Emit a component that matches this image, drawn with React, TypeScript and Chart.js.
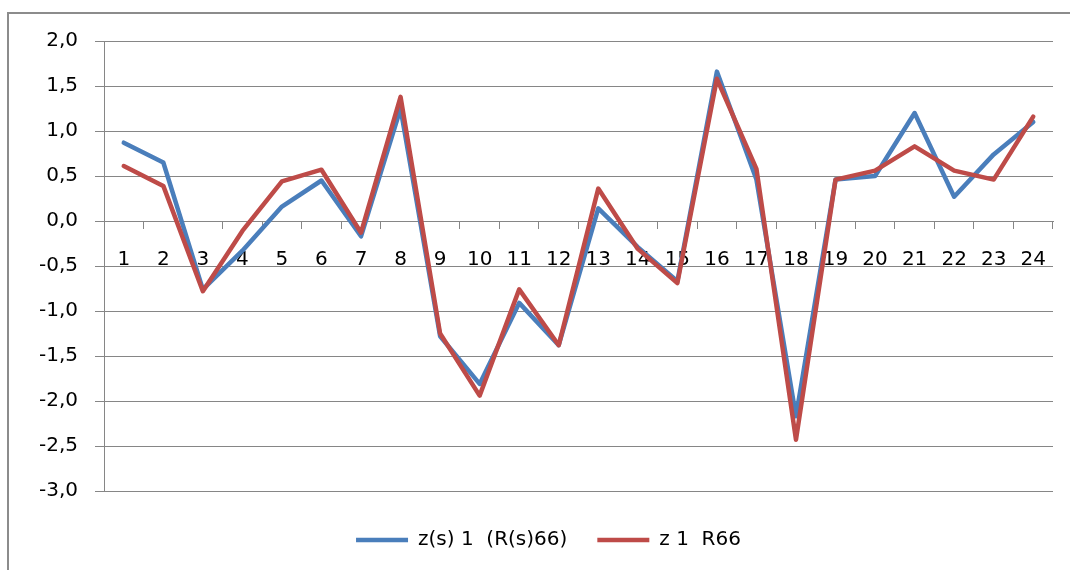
import React, { useEffect, useRef } from "react";
import { Chart, registerables } from "chart.js";

Chart.register(...registerables);

const categories = ["1", "2", "3", "4", "5", "6", "7", "8", "9", "10", "11", "12", "13", "14", "15", "16", "17", "18", "19", "20", "21", "22", "23", "24"];
const seriesBlueName = "z(s) 1  (R(s)66)";
const seriesRedName = "z 1  R66";
const seriesBlue = [0.87, 0.65, -0.76, -0.33, 0.16, 0.45, -0.17, 1.25, -1.28, -1.81, -0.91, -1.38, 0.14, -0.29, -0.67, 1.66, 0.46, -2.17, 0.46, 0.5, 1.2, 0.27, 0.74, 1.1];
const seriesRed = [0.61, 0.39, -0.78, -0.11, 0.44, 0.57, -0.13, 1.38, -1.25, -1.94, -0.76, -1.38, 0.36, -0.31, -0.69, 1.58, 0.58, -2.43, 0.46, 0.56, 0.83, 0.56, 0.46, 1.16];
const yMin = -3;
const yMax = 2;
const yStep = 0.5;

const borderPlugin = {
  id: "outerBorder",
  beforeDraw(chart: any) {
    const ctx = chart.ctx;
    ctx.save();
    ctx.fillStyle = "#ffffff";
    ctx.fillRect(0, 0, chart.width, chart.height);
    ctx.strokeStyle = "#8c8c8c";
    ctx.lineWidth = 2;
    ctx.beginPath();
    ctx.moveTo(8, chart.height + 10);
    ctx.lineTo(8, 13);
    ctx.lineTo(chart.width + 10, 13);
    ctx.stroke();
    ctx.restore();
  },
};

export default function App() {
  const ref = useRef<HTMLCanvasElement | null>(null);

  useEffect(() => {
    if (!ref.current) return;
    Chart.defaults.font.family = "'DejaVu Sans', sans-serif";
    const grid = "#868686";
    const chart = new Chart(ref.current, {
      type: "line",
      data: {
        labels: categories,
        datasets: [
          {
            label: seriesBlueName,
            data: seriesBlue,
            borderColor: "#4A7EBB",
            backgroundColor: "#4A7EBB",
            borderWidth: 4.5,
            pointRadius: 0,
            tension: 0,
            borderJoinStyle: "round",
            borderCapStyle: "round",
            order: 1,
          },
          {
            label: seriesRedName,
            data: seriesRed,
            borderColor: "#BE4B48",
            backgroundColor: "#BE4B48",
            borderWidth: 4.5,
            pointRadius: 0,
            tension: 0,
            borderJoinStyle: "round",
            borderCapStyle: "round",
            order: 0,
          },
        ],
      },
      options: {
        responsive: false,
        animation: false,
        events: [],
        layout: { padding: { top: 41, right: 17, left: 44, bottom: 10 } },
        plugins: {
          tooltip: { enabled: false },
          legend: {
            position: "bottom",
            title: { display: true, text: "", padding: 0, font: { size: 9, lineHeight: 1 } },
            labels: {
              usePointStyle: true,
              pointStyle: "line",
              pointStyleWidth: 52,
              boxWidth: 52,
              padding: 30,
              color: "#000000",
              font: { size: 20, family: "'DejaVu Sans', sans-serif" },
              sort: (a: any, b: any) => a.datasetIndex - b.datasetIndex,
            },
          },
        },
        scales: {
          x: {
            type: "category",
            position: { y: 0 } as any,
            offset: true,
            grid: {
              drawOnChartArea: false,
              drawTicks: true,
              tickLength: 7,
              color: grid,
              offset: true,
            },
            border: { display: true, color: grid, width: 1 },
            ticks: {
              autoSkip: false,
              maxRotation: 0,
              minRotation: 0,
              padding: 20,
              color: "#000000",
              font: { size: 20 },
            },
          },
          y: {
            min: yMin,
            max: yMax,
            afterFit(scale: any) {
              scale.width = 104 - 44;
              // let the tick labels extend left of the scale box without clipping
              scale._computeLabelArea = () => undefined;
            },
            grid: { color: grid, tickLength: 9, drawTicks: true },
            border: { display: true, color: grid, width: 1 },
            ticks: {
              stepSize: yStep,
              padding: 17,
              color: "#000000",
              font: { size: 20 },
              callback: (v: any) => Number(v).toFixed(1).replace(".", ","),
            },
          },
        },
      },
      plugins: [borderPlugin],
    });
    return () => chart.destroy();
  }, []);

  return (
    <div style={{ position: "fixed", left: 0, top: 0, width: 1070, height: 570, background: "#fff" }}>
      <canvas ref={ref} width={1070} height={570} style={{ display: "block", width: 1070, height: 570 }} />
    </div>
  );
}
